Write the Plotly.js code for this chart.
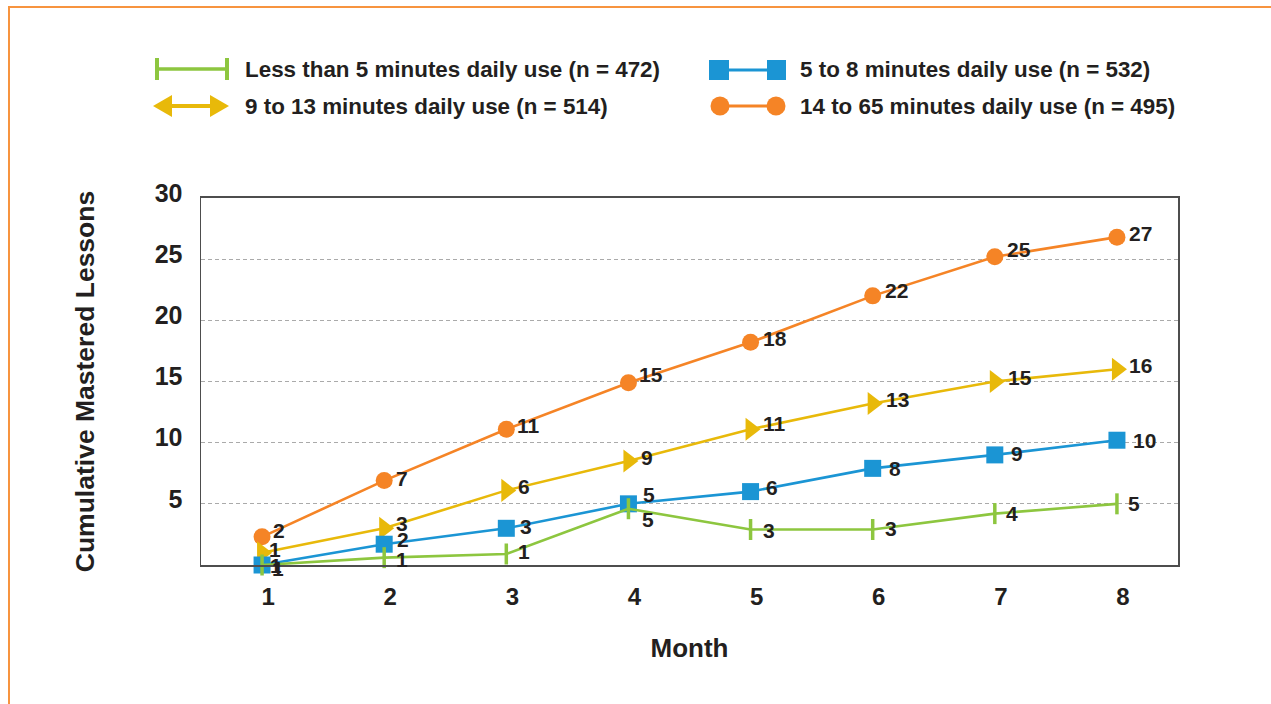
<!DOCTYPE html>
<html>
<head>
<meta charset="utf-8">
<script src="https://cdn.plot.ly/plotly-3.0.1.min.js"></script>
<style>
html,body{margin:0;padding:0;background:#fff;}
#frame{position:absolute;left:8px;top:6px;width:1263px;height:698px;border-top:2px solid #f7943f;border-left:2px solid #f7943f;box-sizing:border-box;pointer-events:none;z-index:5;}
#chart{position:absolute;left:0;top:0;width:1271px;height:704px;}
</style>
</head>
<body>
<div id="chart"></div>
<div id="frame"></div>
<script>
// ---- data ----
var months = [1, 2, 3, 4, 5, 6, 7, 8];
var seriesNames = [
  "Less than 5 minutes daily use (n = 472)",
  "5 to 8 minutes daily use (n = 532)",
  "9 to 13 minutes daily use (n = 514)",
  "14 to 65 minutes daily use (n = 495)"
];
var lessThan5 = [0.0, 0.6, 0.9, 4.6, 2.9, 2.9, 4.2, 5.0];
var lessThan5Labels = ["1", "1", "1", "5", "3", "3", "4", "5"];
var fiveTo8 = [0.0, 1.7, 3.0, 5.0, 6.0, 7.9, 9.0, 10.2];
var fiveTo8Labels = ["1", "2", "3", "5", "6", "8", "9", "10"];
var nineTo13 = [1.0, 3.0, 6.1, 8.5, 11.1, 13.2, 15.0, 16.0];
var nineTo13Labels = ["1", "3", "6", "9", "11", "13", "15", "16"];
var fourteenTo65 = [2.3, 6.9, 11.1, 14.9, 18.2, 22.0, 25.2, 26.8];
var fourteenTo65Labels = ["2", "7", "11", "15", "18", "22", "25", "27"];
var yTicks = [5, 10, 15, 20, 25, 30];
var xTicks = [1, 2, 3, 4, 5, 6, 7, 8];

// ---- style ----
var GREEN = "#8dc63f", BLUE = "#1b95d4", YELLOW = "#e8b90a", ORANGE = "#f58426";
var TXT = "#231f20";
var FONT = "Liberation Sans, Arial, sans-serif";
var NARROW = "Liberation Sans Narrow, Arial Narrow, Liberation Sans, sans-serif";

function tr(y, name, color, sym, size) {
  return {
    x: months, y: y, name: name, type: "scatter", mode: "lines+markers",
    line: {color: color, width: 2.6},
    marker: {symbol: sym, size: size, color: color, line: {color: color, width: 0}},
    cliponaxis: false, showlegend: false, hoverinfo: "x+y+name"
  };
}

var traces = [
  tr(fourteenTo65, seriesNames[3], ORANGE, "circle", 17),
  tr(nineTo13, seriesNames[2], YELLOW, "triangle-right", 20),
  tr(fiveTo8, seriesNames[1], BLUE, "square", 17),
  tr(lessThan5, seriesNames[0], GREEN, "line-ns", 15)
];
traces[3].marker.line = {color: GREEN, width: 3.5};

// ---- point labels (anchored on the data points) ----
var annotations = [];
function labels(ys, txts, dxs, dys) {
  for (var i = 0; i < months.length; i++) {
    annotations.push({xref: "x", yref: "y", x: months[i], y: ys[i], text: txts[i], showarrow: false,
      xanchor: "left", yanchor: "middle", xshift: dxs[i], yshift: dys[i],
      font: {family: NARROW, size: 21, color: TXT, weight: 700}});
  }
}
labels(fourteenTo65, fourteenTo65Labels, [9, 10, 9, 9, 10, 10, 10, 10], [6, 2, 4, 8, 4, 5, 7, 4]);
labels(nineTo13, nineTo13Labels, [5, 10, 10, 11, 10, 11, 11, 10], [3, 5, 4, 4, 6, 4, 4, 4]);
labels(fiveTo8, fiveTo8Labels, [6, 11, 12, 13, 13, 14, 14, 14], [0, 5, 2, 9, 4, 0, 1, 0]);
labels(lessThan5, lessThan5Labels, [8, 10, 10, 12, 10, 10, 9, 9], [-3, -2, 2, -11, -1, 1, 0, 0]);

// ---- custom legend (pixel -> paper) ----
var L = 201, R = 1178, T = 198, B = 565;
function px(x) { return (x - L) / (R - L); }
function py(y) { return (B - y) / (B - T); }
var shapes = [];
function line(x0, y0, x1, y1, c, w) {
  shapes.push({type: "line", xref: "paper", yref: "paper", x0: px(x0), y0: py(y0), x1: px(x1), y1: py(y1), line: {color: c, width: w}});
}
function rect(x0, y0, x1, y1, c) {
  shapes.push({type: "rect", xref: "paper", yref: "paper", x0: px(x0), y0: py(y0), x1: px(x1), y1: py(y1), fillcolor: c, line: {width: 0}});
}
function circ(cx, cy, r, c) {
  shapes.push({type: "circle", xref: "paper", yref: "paper", x0: px(cx - r), y0: py(cy - r), x1: px(cx + r), y1: py(cy + r), fillcolor: c, line: {width: 0}});
}
function tri(pts, c) {
  var p = "M" + pts.map(function (q) { return px(q[0]) + "," + py(q[1]); }).join(" L") + " Z";
  shapes.push({type: "path", xref: "paper", yref: "paper", path: p, fillcolor: c, line: {width: 0}});
}
function legText(x, y, s) {
  annotations.push({xref: "paper", yref: "paper", x: px(x), y: py(y), xanchor: "left", yanchor: "middle",
    text: s, showarrow: false, font: {family: FONT, size: 22.4, color: TXT, weight: 700}});
}
// green
line(155, 69, 229, 69, GREEN, 3.5);
line(157, 58, 157, 80, GREEN, 4);
line(227, 58, 227, 80, GREEN, 4);
legText(243, 69, seriesNames[0]);
// yellow
line(168, 106, 214, 106, YELLOW, 4);
tri([[153, 106], [172, 95], [172, 117]], YELLOW);
tri([[229, 106], [210, 95], [210, 117]], YELLOW);
legText(243, 106, seriesNames[2]);
// blue
line(720, 70, 776, 70, BLUE, 3);
rect(709, 60, 729, 80, BLUE);
rect(767, 60, 786, 80, BLUE);
legText(798, 70, seriesNames[1]);
// orange
line(720, 106, 776, 106, ORANGE, 3);
circ(720, 106, 9.5, ORANGE);
circ(776, 106, 9.5, ORANGE);
legText(798, 106, seriesNames[3]);

var layout = {
  width: 1271, height: 704,
  margin: {l: L, r: 1271 - R, t: T, b: 704 - B, pad: 0},
  paper_bgcolor: "#ffffff", plot_bgcolor: "#ffffff",
  showlegend: false,
  font: {family: FONT, color: TXT},
  xaxis: {
    range: [0.5, 8.5], tickvals: xTicks, ticktext: xTicks.map(String),
    showgrid: false, zeroline: false, showline: true, linecolor: "#4d4d4d", linewidth: 2, mirror: true,
    ticks: "", tickfont: {family: FONT, size: 24, color: TXT, weight: 700},
    ticklabelstandoff: 9, ticklabelshift: 6,
    title: {text: "Month", font: {family: FONT, size: 26, color: TXT, weight: 700}, standoff: 30}
  },
  yaxis: {
    range: [0, 30], tickvals: yTicks, ticktext: yTicks.map(String),
    showgrid: true, gridcolor: "#aaaaaa", griddash: "4px,3px", gridwidth: 1,
    zeroline: false, showline: true, linecolor: "#4d4d4d", linewidth: 1.5, mirror: true,
    ticks: "", tickfont: {family: FONT, size: 25, color: TXT, weight: 700},
    ticklabelstandoff: 12, ticklabelshift: -5,
    title: {text: "Cumulative Mastered Lessons", font: {family: FONT, size: 26.5, color: TXT, weight: 700}, standoff: 52}
  },
  shapes: shapes,
  annotations: annotations
};

Plotly.newPlot("chart", traces, layout, {displayModeBar: false, staticPlot: true});
</script>
</body>
</html>
